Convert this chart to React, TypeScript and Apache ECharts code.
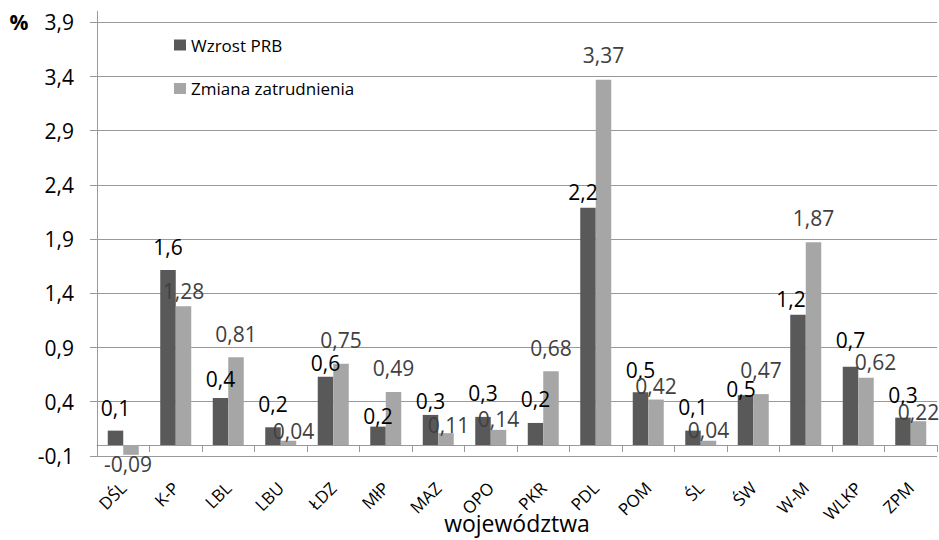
import React, { useEffect, useRef } from "react";
import * as echarts from "echarts";

const categories = ["DŚL", "K-P", "LBL", "LBU", "ŁDZ", "MłP", "MAZ", "OPO", "PKR", "PDL", "POM", "ŚL", "ŚW", "W-M", "WLKP", "ZPM"];
const wzrostPRB = [0.133, 1.615, 0.434, 0.164, 0.63, 0.17, 0.278, 0.26, 0.204, 2.19, 0.487, 0.133, 0.46, 1.203, 0.723, 0.253];
const zmianaZatrudnienia = [-0.09, 1.28, 0.81, 0.04, 0.75, 0.49, 0.11, 0.14, 0.68, 3.37, 0.42, 0.04, 0.47, 1.87, 0.62, 0.22];
const yTicks = [-0.1, 0.4, 0.9, 1.4, 1.9, 2.4, 2.9, 3.4, 3.9];
const seriesNames = ["Wzrost PRB", "Zmiana zatrudnienia"];

// label placement (style): offset of label centre from bar end, px
const darkLabelOffsets = [
  [0, -23], [0, -23], [0, -19], [0, -23.5], [0, -14], [0, -10.5], [0, -14], [0, -23.5],
  [0, -23.5], [-5, -16], [0, -22.5], [0, -23.5], [-4.5, -6.5], [-7, -15.5], [0, -27], [0, -23]
];
const lightLabelOffsets = [
  [-3, 9], [0, -15.5], [0, -23.5], [5, -9.5], [0, -23.5], [0, -23.5], [2.5, -8], [0, -11],
  [0, -23.5], [0, -24.5], [0, -14], [0, -11], [0, -24], [0, -24.5], [9.5, -16], [0, -9]
];

const FONT = "'Open Sans', sans-serif";
const fmt = (v: number, d: number) => v.toFixed(d).replace(".", ",");

export default function App() {
  const ref = useRef<HTMLDivElement>(null);
  useEffect(() => {
    if (!ref.current) return;
    const chart = echarts.init(ref.current, undefined, { renderer: "svg" });
    const mk = (vals: number[], offs: number[][]) =>
      vals.map((v, i) => ({
        value: v,
        label: { position: v < 0 ? "bottom" : "top", offset: offs[i] },
      }));
    chart.setOption({
      animation: false,
      backgroundColor: "#ffffff",
      textStyle: { fontFamily: FONT },
      grid: { left: 97, right: 2, top: 11.5, bottom: 84.1 },
      legend: {
        orient: "vertical",
        left: 169,
        top: 31.5,
        itemWidth: 12,
        itemHeight: 11,
        itemGap: 26.5,
        icon: "rect",
        textStyle: { fontSize: 17, color: "#000", fontFamily: FONT, lineHeight: 17 },
        data: seriesNames,
      },
      xAxis: {
        type: "category",
        data: categories,
        axisLine: { onZero: true, lineStyle: { color: "#999", width: 1 } },
        axisTick: { show: true, length: 7, alignWithLabel: false, lineStyle: { color: "#999" } },
        axisLabel: { rotate: 45, interval: 0, margin: 29, fontSize: 17, color: "#000", fontFamily: FONT },
      },
      yAxis: {
        type: "value",
        min: -0.1,
        max: 4.0,
        axisLine: { show: true, lineStyle: { color: "#999", width: 1 } },
        axisTick: { show: true, length: 7, customValues: yTicks, lineStyle: { color: "#999" } },
        axisLabel: {
          customValues: yTicks,
          margin: 23,
          fontSize: 21,
          color: "#000",
          fontFamily: FONT,
          formatter: (v: number) => fmt(v, 1),
        },
        splitLine: { show: true, lineStyle: { color: "#999", width: 1 } },
      },
      series: [
        {
          name: seriesNames[0],
          type: "bar",
          barWidth: 15.5,
          barGap: "0%",
          itemStyle: { color: "#595959" },
          label: {
            show: true,
            distance: 0,
            verticalAlign: "middle",
            fontSize: 21,
            color: "#000",
            fontFamily: FONT,
            formatter: (p: any) => fmt(p.value, 1),
          },
          data: mk(wzrostPRB, darkLabelOffsets),
        },
        {
          name: seriesNames[1],
          type: "bar",
          barWidth: 15.5,
          barGap: "0%",
          itemStyle: { color: "#a6a6a6" },
          label: {
            show: true,
            distance: 0,
            verticalAlign: "middle",
            fontSize: 21,
            color: "#404040",
            fontFamily: FONT,
            formatter: (p: any) => fmt(p.value, 2),
          },
          data: mk(zmianaZatrudnienia, lightLabelOffsets),
        },
      ],
      graphic: [
        {
          type: "text",
          x: 19,
          y: 22,
          style: { text: "%", fontSize: 21, fontWeight: "bold", fontFamily: FONT, fill: "#000", textAlign: "center", textVerticalAlign: "middle" },
        },
        {
          type: "text",
          x: 517,
          y: 523,
          style: { text: "województwa", fontSize: 23, fontFamily: FONT, fill: "#000", textAlign: "center", textVerticalAlign: "middle" },
        },
      ],
    });
    return () => chart.dispose();
  }, []);
  return <div ref={ref} style={{ position: "fixed", left: 0, top: 0, width: 939, height: 540 }} />;
}
